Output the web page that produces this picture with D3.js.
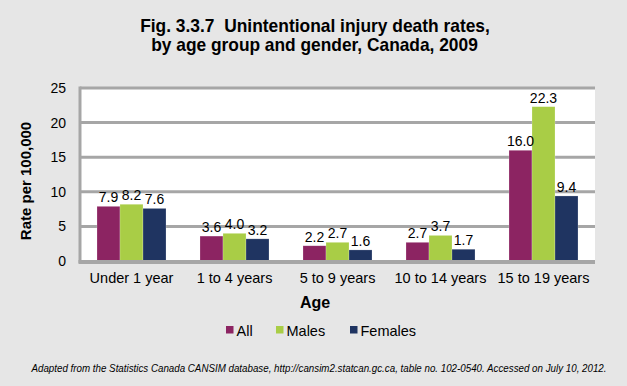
<!DOCTYPE html>
<html><head><meta charset="utf-8">
<script src="https://cdn.jsdelivr.net/npm/d3@7"></script>
<style>html,body{margin:0;padding:0;background:#e6e6e6;}svg{display:block;}</style>
</head><body>
<script>
const categories = ["Under 1 year", "1 to 4 years", "5 to 9 years", "10 to 14 years", "15 to 19 years"];
const seriesNames = ["All", "Males", "Females"];
const allValues = [7.9, 3.6, 2.2, 2.7, 16.0];
const maleValues = [8.2, 4.0, 2.7, 3.7, 22.3];
const femaleValues = [7.6, 3.2, 1.6, 1.7, 9.4];
const yTicks = [0, 5, 10, 15, 20, 25];
const colors = ["#8c2462", "#a9cd46", "#1f3461"];
const titleLines = ["Fig. 3.3.7  Unintentional injury death rates,", "by age group and gender, Canada, 2009"];
const footnote = "Adapted from the Statistics Canada CANSIM database, http://cansim2.statcan.gc.ca, table no. 102-0540. Accessed on July 10, 2012.";

const W = 627, H = 386;
const svg = d3.select("body").append("svg").attr("width", W).attr("height", H);
svg.append("rect").attr("width", W).attr("height", H).attr("fill", "#e6e6e6");

const font = "Liberation Sans, Arial, Helvetica, sans-serif";
const plot = {left: 80, right: 595, top: 88, bottom: 261};

// text squeezed horizontally to a target width (condensed look)
function fittedText(cx, cy, str, width, attrs) {
  const g = svg.append("g").attr("transform", `translate(${cx},${cy})`);
  const t = g.append("text").attr("x", 0).attr("y", 0).attr("text-anchor", "middle")
    .attr("font-family", font).style("white-space", "pre");
  Object.entries(attrs).forEach(([k, v]) => t.attr(k, v));
  t.text(str);
  const natural = t.node().getComputedTextLength();
  const sx = width / natural;
  g.attr("transform", `translate(${cx},${cy}) scale(${sx},1)`);
  return t;
}

// Title
fittedText(315, 32, titleLines[0], 350, {"font-weight": "bold", "font-size": 17.5, "fill": "#000"});
fittedText(314.5, 51, titleLines[1], 327, {"font-weight": "bold", "font-size": 17.5, "fill": "#000"});

const x0 = d3.scaleBand().domain(categories).range([plot.left, plot.right]).paddingInner(0.33).paddingOuter(0.165);
const x1 = d3.scaleBand().domain(seriesNames).range([0, x0.bandwidth()]);
const y = d3.scaleLinear().domain([0, 25]).range([plot.bottom, plot.top]);

// plot background
svg.append("rect").attr("x", plot.left).attr("y", plot.top).attr("width", plot.right - plot.left)
  .attr("height", plot.bottom - plot.top).attr("fill", "#ffffff");

// gridlines
svg.append("g").selectAll("line").data(yTicks.filter(d => d > 0)).join("line")
  .attr("x1", plot.left).attr("x2", plot.right).attr("y1", d => y(d)).attr("y2", d => y(d))
  .attr("stroke", "#a6a6a6").attr("stroke-width", 3);

// y axis
const yAxis = svg.append("g").attr("transform", `translate(${plot.left},0)`)
  .call(d3.axisLeft(y).tickValues(yTicks).tickSize(0).tickPadding(14));
yAxis.select(".domain").remove();
yAxis.selectAll("text").attr("font-family", font).attr("font-size", 14).attr("fill", "#000");
svg.append("line").attr("x1", plot.left).attr("x2", plot.left).attr("y1", plot.top - 1.5).attr("y2", plot.bottom + 2)
  .attr("stroke", "#a6a6a6").attr("stroke-width", 3);

// bars
const data = categories.map((c, i) => ({cat: c, vals: [allValues[i], maleValues[i], femaleValues[i]]}));
const groups = svg.append("g").selectAll("g").data(data).join("g")
  .attr("transform", d => `translate(${x0(d.cat)},0)`);
groups.selectAll("rect").data(d => d.vals.map((v, j) => ({s: seriesNames[j], v, j}))).join("rect")
  .attr("x", d => x1(d.s)).attr("width", x1.bandwidth())
  .attr("y", d => y(d.v)).attr("height", d => y(0) - y(d.v))
  .attr("fill", d => colors[d.j]).attr("stroke", "#ffffff").attr("stroke-opacity", 0.35).attr("stroke-width", 0.6);
groups.selectAll("text").data(d => d.vals.map((v, j) => ({s: seriesNames[j], v, j}))).join("text")
  .attr("x", d => x1(d.s) + x1.bandwidth() / 2).attr("y", d => y(d.v) - 4)
  .attr("text-anchor", "middle").attr("font-family", font).attr("font-size", 14).attr("fill", "#000")
  .text(d => d.v.toFixed(1));

// x axis line
svg.append("line").attr("x1", plot.left - 1.5).attr("x2", plot.right).attr("y1", plot.bottom + 1).attr("y2", plot.bottom + 1)
  .attr("stroke", "#a6a6a6").attr("stroke-width", 4);

const xAxis = svg.append("g").attr("transform", `translate(0,${plot.bottom})`)
  .call(d3.axisBottom(x0).tickSize(0).tickPadding(12));
xAxis.select(".domain").remove();
xAxis.selectAll("text").attr("font-family", font).attr("font-size", 14.5).attr("fill", "#000");

// axis titles
svg.append("text").attr("x", 315).attr("y", 308).attr("text-anchor", "middle")
  .attr("font-family", font).attr("font-weight", "bold").attr("font-size", 16).text("Age");
svg.append("text").attr("transform", "translate(31,181) rotate(-90)").attr("text-anchor", "middle")
  .attr("font-family", font).attr("font-weight", "bold").attr("font-size", 15).text("Rate per 100,000");

// legend
const legendX = [226, 276, 350];
const leg = svg.append("g").selectAll("g").data(seriesNames).join("g")
  .attr("transform", (d, i) => `translate(${legendX[i]},0)`);
leg.append("rect").attr("x", 0).attr("y", 326).attr("width", 7.5).attr("height", 7.5).attr("fill", (d, i) => colors[i]);
leg.append("text").attr("x", 10.5).attr("y", 335.5).attr("font-family", font).attr("font-size", 14.5).attr("fill", "#000").text(d => d);

// footnote
fittedText(319, 372, footnote, 576, {"font-style": "italic", "font-size": 11, "fill": "#000"});
</script>
</body></html>
